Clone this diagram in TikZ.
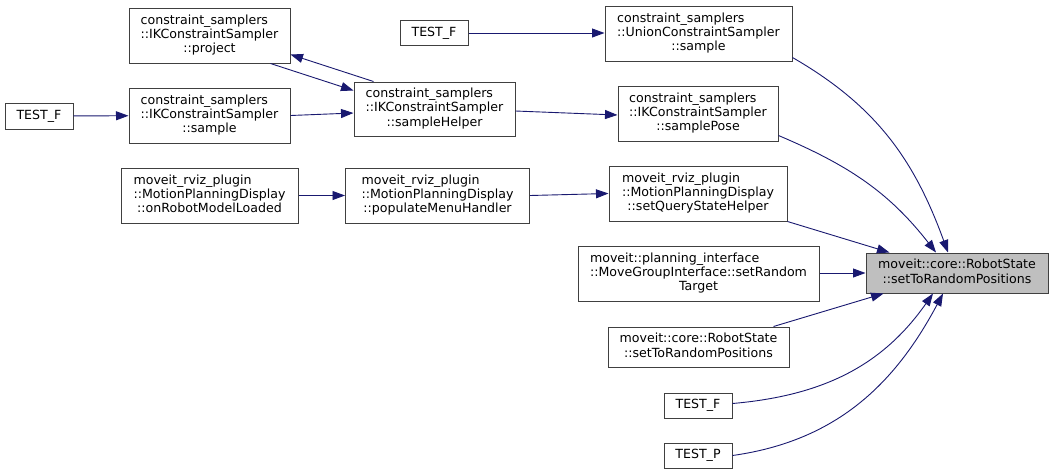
\documentclass[tikz,border=0pt]{standalone}
\usepackage{fontspec}
\setmainfont{DejaVu Sans}
\usetikzlibrary{arrows.meta,calc}
\definecolor{edgec}{HTML}{191970}
\definecolor{boxc}{HTML}{404040}
\definecolor{calleec}{HTML}{BFBFBF}
\newcommand{\lthree}[3]{\begin{tabular}{@{}l@{}}#1\\#2\\\multicolumn{1}{@{}c@{}}{#3}\end{tabular}}
\newcommand{\ltwo}[2]{\begin{tabular}{@{}l@{}}#1\\\multicolumn{1}{@{}c@{}}{#2}\end{tabular}}
\tikzset{
  box/.style={draw=boxc, line width=1pt, fill=white, inner sep=0pt, align=center,
    font=\fontsize{12.6}{14.3}\selectfont},
  callee/.style={box, fill=calleec},
  edge/.style={draw=edgec, line width=0.9pt, -{Triangle[length=12.5pt,width=9pt]}}
}
\begin{document}
\begin{tikzpicture}[x=1pt,y=-1pt]
\fill[white] (0,0) rectangle (1061,475);
\useasboundingbox (0,0) rectangle (1061,475);

\node[box, minimum width=161pt, minimum height=55pt] (proj) at (209.5,35.5)
  {\lthree{constraint\_samplers}{::IKConstraintSampler}{::project}};
\node[box, minimum width=161pt, minimum height=55pt] (iks) at (209.5,115.5)
  {\lthree{constraint\_samplers}{::IKConstraintSampler}{::sample}};
\node[box, minimum width=68pt, minimum height=26pt] (tf1) at (39,116) {TEST\_F};
\node[box, minimum width=161pt, minimum height=54pt] (sh) at (434.5,109)
  {\lthree{constraint\_samplers}{::IKConstraintSampler}{::sampleHelper}};
\node[box, minimum width=68pt, minimum height=25pt] (tf2) at (434,33) {TEST\_F};
\node[box, minimum width=177pt, minimum height=55pt] (orml) at (209.5,195.5)
  {\lthree{moveit\_rviz\_plugin}{::MotionPlanningDisplay}{::onRobotModelLoaded}};
\node[box, minimum width=184pt, minimum height=55pt] (pmh) at (437.5,195.5)
  {\lthree{moveit\_rviz\_plugin}{::MotionPlanningDisplay}{::populateMenuHandler}};
\node[box, minimum width=187pt, minimum height=55pt] (usam) at (698.5,33.5)
  {\lthree{constraint\_samplers}{::UnionConstraintSampler}{::sample}};
\node[box, minimum width=160pt, minimum height=55pt] (spose) at (698,113.5)
  {\lthree{constraint\_samplers}{::IKConstraintSampler}{::samplePose}};
\node[box, minimum width=178pt, minimum height=55pt] (sqsh) at (698,193.5)
  {\lthree{moveit\_rviz\_plugin}{::MotionPlanningDisplay}{::setQueryStateHelper}};
\node[box, minimum width=241pt, minimum height=55pt] (srt) at (698.5,273.5)
  {\lthree{moveit::planning\_interface}{::MoveGroupInterface::setRandom}{Target}};
\node[callee, minimum width=182pt, minimum height=40pt] (rs) at (957,273)
  {\ltwo{moveit::core::RobotState}{::setToRandomPositions}};
\node[box, minimum width=181pt, minimum height=40pt] (rs2) at (698.5,347)
  {\ltwo{moveit::core::RobotState}{::setToRandomPositions}};
\node[box, minimum width=68pt, minimum height=25pt] (tf3) at (698,405.5) {TEST\_F};
\node[box, minimum width=68pt, minimum height=25pt] (tp) at (698,455.5) {TEST\_P};

% left part
\draw[edge] (tf1) -- (iks);
\draw[edge] (iks.east) -- (sh.west |- 0,113);
\draw[edge] ([xshift=-61pt]sh.north) -- ([yshift=9pt]proj.south east);
\draw[edge] ([xshift=-20pt]proj.south east) -- ([yshift=-9pt]sh.north west);
\draw[edge] (tf2) -- (usam.west |- tf2.east);
\draw[edge] ([yshift=-2pt]sh.east) -- ([yshift=-1.5pt]spose.west);
\draw[edge] (orml) -- (pmh);
\draw[edge] (pmh.east) -- (sqsh.west);

% into callee
\draw[edge] ([yshift=4pt]usam.south east) to[out=-30,in=110] ([xshift=-9pt]rs.north);
\draw[edge] ([yshift=6pt]spose.south east) to[out=-23,in=128] ([xshift=-21pt]rs.north);
\draw[edge] (sqsh.south east) -- ([xshift=24pt]rs.north west);
\draw[edge] (srt.east |- rs.west) -- (rs.west);
\draw[edge] ([xshift=-16pt]rs2.north east) -- ([xshift=18pt]rs.south west);
\draw[edge] ([yshift=2pt]tf3.east) to[out=5,in=-125] ([xshift=-24pt]rs.south);
\draw[edge] (tp.east) to[out=8,in=-118] ([xshift=-14pt]rs.south);
\end{tikzpicture}
\end{document}
